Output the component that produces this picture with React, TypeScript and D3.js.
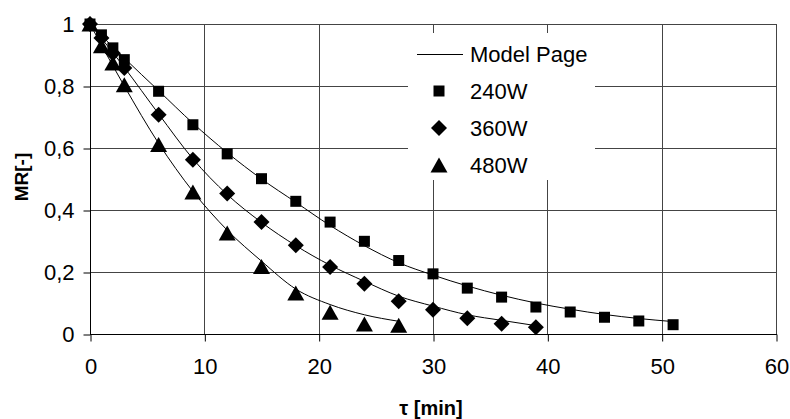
import React, { useEffect, useRef } from "react";
import * as d3 from "d3";

// measured points
const t240 = [0, 1, 2, 3, 6, 9, 12, 15, 18, 21, 24, 27, 30, 33, 36, 39, 42, 45, 48, 51];
const mr240 = [1, 0.965, 0.923, 0.885, 0.783, 0.675, 0.581, 0.501, 0.428, 0.361, 0.299, 0.237, 0.194, 0.148, 0.119, 0.087, 0.071, 0.054, 0.042, 0.03];

const t360 = [0, 1, 2, 3, 6, 9, 12, 15, 18, 21, 24, 27, 30, 33, 36, 39];
const mr360 = [1, 0.955, 0.906, 0.858, 0.707, 0.562, 0.453, 0.361, 0.286, 0.216, 0.162, 0.106, 0.078, 0.051, 0.033, 0.022];

const t480 = [0, 1, 2, 3, 6, 9, 12, 15, 18, 21, 24, 27];
const mr480 = [1, 0.93, 0.874, 0.804, 0.611, 0.458, 0.326, 0.218, 0.132, 0.07, 0.032, 0.028];

// model curves
const modelT240 = [0, 3, 6, 9, 12, 15, 18, 21, 24, 27, 30, 33, 36, 39, 42, 45, 48, 51];
const model240 = [1, 0.89, 0.785, 0.68, 0.585, 0.5, 0.425, 0.35, 0.285, 0.23, 0.19, 0.155, 0.125, 0.1, 0.08, 0.063, 0.05, 0.04];

const modelT360 = [0, 3, 6, 9, 12, 15, 18, 21, 24, 27, 30, 33, 36, 39];
const model360 = [1, 0.86, 0.71, 0.565, 0.45, 0.36, 0.285, 0.222, 0.17, 0.122, 0.09, 0.062, 0.044, 0.027];

const modelT480 = [0, 3, 6, 9, 12, 15, 18, 21, 24, 27];
const model480 = [1, 0.8, 0.615, 0.46, 0.335, 0.235, 0.145, 0.095, 0.062, 0.041];

const xTicks = [0, 10, 20, 30, 40, 50, 60];
const yTicks = [0, 0.2, 0.4, 0.6, 0.8, 1];
const legendLabels = ["Model Page", "240W", "360W", "480W"];

const FONT = "'Liberation Sans', Arial, sans-serif";

const square = (s: number) => `M${-s / 2},${-s / 2}h${s}v${s}h${-s}Z`;
const diamond = (s: number) => `M0,${-s / 2}L${s / 2},0L0,${s / 2}L${-s / 2},0Z`;
const triangle = (w: number, h: number) => `M0,${-h / 2}L${w / 2},${h / 2}L${-w / 2},${h / 2}Z`;

const App = () => {
  const ref = useRef<SVGSVGElement>(null);

  useEffect(() => {
    const svg = d3.select(ref.current);
    svg.selectAll("*").remove();

    const left = 90, right = 776, top = 24, bottom = 334;
    const x = d3.scaleLinear().domain([0, 60]).range([left, right]);
    const y = d3.scaleLinear().domain([0, 1]).range([bottom, top]);

    const g = svg.append("g");

    // grid
    g.selectAll("line.gy")
      .data(yTicks.slice(1))
      .join("line")
      .attr("x1", left).attr("x2", right)
      .attr("y1", (d) => y(d) + 0.5).attr("y2", (d) => y(d) + 0.5)
      .attr("stroke", "#444");
    g.selectAll("line.gx")
      .data(xTicks.slice(1))
      .join("line")
      .attr("y1", top).attr("y2", bottom)
      .attr("x1", (d) => Math.round(x(d)) + 0.5).attr("x2", (d) => Math.round(x(d)) + 0.5)
      .attr("stroke", "#444");

    // axes
    const fmt = (d: number) => d3.format("~g")(d).replace(".", ",");
    const yAxis = g.append("g")
      .attr("transform", `translate(${left + 0.5},0.5)`)
      .call(d3.axisLeft(y).tickValues(yTicks).tickSize(7).tickPadding(9).tickFormat((d) => fmt(d as number)));
    const xAxis = g.append("g")
      .attr("transform", `translate(0.5,${bottom + 0.5})`)
      .call(d3.axisBottom(x).tickValues(xTicks).tickSize(7).tickPadding(17).tickFormat((d) => String(d)));
    [yAxis, xAxis].forEach((a) => {
      a.select(".domain").attr("stroke", "#000").attr("d", null);
      a.selectAll(".tick line").attr("stroke", "#000");
      a.selectAll("text").attr("font-family", FONT).attr("font-size", 22).attr("fill", "#000");
      a.attr("font-family", FONT);
    });
    g.append("line").attr("x1", left + 0.5).attr("x2", left + 0.5).attr("y1", top).attr("y2", bottom + 1).attr("stroke", "#000");
    g.append("line").attr("x1", left).attr("x2", right + 1).attr("y1", bottom + 0.5).attr("y2", bottom + 0.5).attr("stroke", "#000");

    // model curves
    const line = d3.line<[number, number]>()
      .x((d) => x(d[0]))
      .y((d) => y(d[1]))
      .curve(d3.curveMonotoneX);
    const models: [number[], number[]][] = [
      [modelT240, model240],
      [modelT360, model360],
      [modelT480, model480],
    ];
    models.forEach(([ts, vs]) => {
      g.append("path")
        .attr("d", line(ts.map((t, i) => [t, vs[i]] as [number, number])))
        .attr("fill", "none")
        .attr("stroke", "#000")
        .attr("stroke-width", 1);
    });

    // markers
    const series = [
      { ts: t240, vs: mr240, shape: square(11) },
      { ts: t360, vs: mr360, shape: diamond(16) },
      { ts: t480, vs: mr480, shape: triangle(17, 15) },
    ];
    series.forEach((s) => {
      g.append("g")
        .selectAll("path")
        .data(s.ts.map((t, i) => [t, s.vs[i]]))
        .join("path")
        .attr("transform", (d) => `translate(${x(d[0])},${y(d[1])})`)
        .attr("d", s.shape)
        .attr("fill", "#000");
    });

    // legend
    const lg = g.append("g");
    lg.append("rect").attr("x", 408).attr("y", 33).attr("width", 187).attr("height", 147).attr("fill", "#fff");
    const ly = [54, 91, 128, 165];
    lg.append("line").attr("x1", 417).attr("x2", 463).attr("y1", ly[0] + 0.5).attr("y2", ly[0] + 0.5).attr("stroke", "#000");
    series.forEach((s, i) => {
      lg.append("path").attr("transform", `translate(439,${ly[i + 1]})`).attr("d", s.shape).attr("fill", "#000");
    });
    lg.selectAll("text")
      .data(legendLabels)
      .join("text")
      .attr("x", 470)
      .attr("y", (d, i) => ly[i] + 8)
      .attr("font-family", FONT)
      .attr("font-size", 22)
      .text((d) => d);

    // axis titles
    g.append("text")
      .attr("transform", `translate(28,177) rotate(-90)`)
      .attr("text-anchor", "middle")
      .attr("font-family", FONT)
      .attr("font-weight", "bold")
      .attr("font-size", 19)
      .text("MR[-]");
    g.append("text")
      .attr("x", 431)
      .attr("y", 415)
      .attr("text-anchor", "middle")
      .attr("font-family", FONT)
      .attr("font-weight", "bold")
      .attr("font-size", 20)
      .text("τ [min]");
  }, []);

  return (
    <svg
      ref={ref}
      width={790}
      height={419}
      style={{ position: "absolute", left: 0, top: 0, background: "#fff" }}
    />
  );
};

export default App;
